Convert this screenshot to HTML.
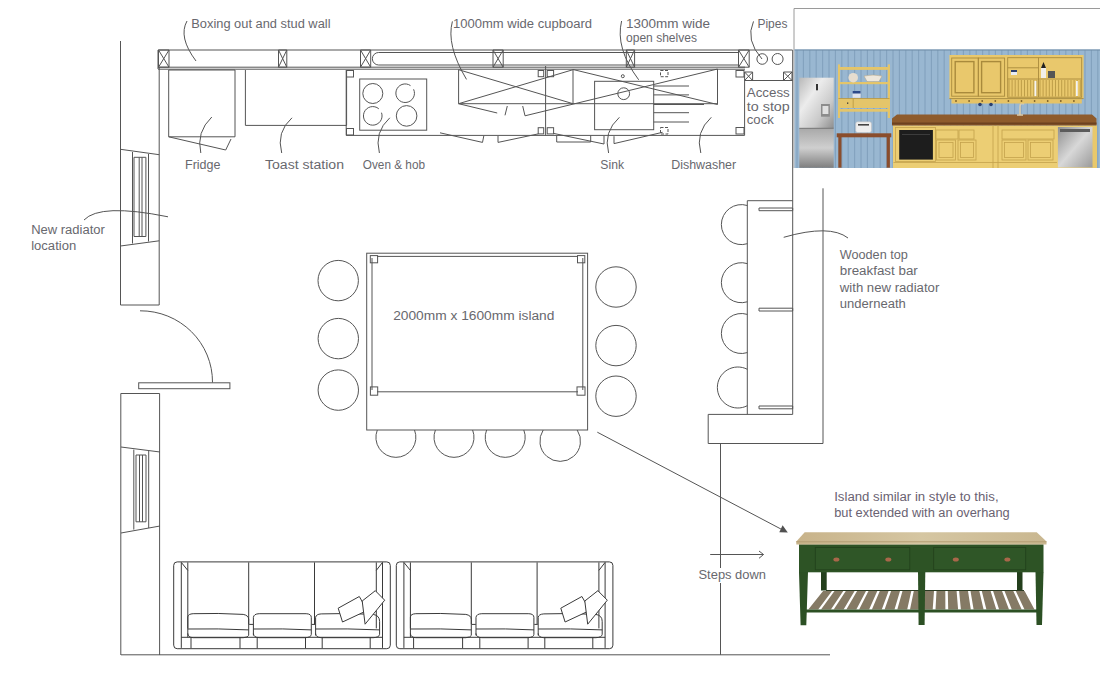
<!DOCTYPE html>
<html><head><meta charset="utf-8">
<style>
html,body{margin:0;padding:0;background:#fff;width:1100px;height:675px;overflow:hidden}
svg{display:block}
text{font-family:"Liberation Sans",sans-serif;fill:#68686e;font-size:12px}
</style></head><body>
<svg width="1100" height="675" viewBox="0 0 1100 675">
<defs>
<g id="sofa" fill="none" stroke="#3a3a3a" stroke-width="1">
<rect x="0.5" y="0.5" width="216.6" height="86.8" rx="3.5"/>
<path d="M8.1 1 V86.5 M209.3 1 V86.5"/>
<path d="M14.6 1 V67 M203.1 1 V67 M8.1 1 L14.6 9 M209.3 1 L203.1 9"/>
<path d="M75.5 1 V62.8 M141.3 1 V62.8"/>
<path d="M14.6 76 V55.5 Q15 52.5 20 52.3 Q45 51.5 70 53 Q75.5 54 75.5 58 V74 Q75 76 70 76.3 H20 Q14.6 76 14.6 72 M14.6 67.6 Q45 67 75.5 68.5"/>
<path d="M80.2 74 V56 Q80.5 52.5 86 52.3 H133 Q138.1 52.5 138.1 56 V73 Q138 76 132 76.3 H86 Q80.2 76 80.2 72 M80.2 67.6 Q110 67 138.1 68.5"/>
<path d="M142.4 74 V56 Q142.8 52.8 148 52.5 Q175 51.5 200 53 Q206.4 54 206.4 60 V73 Q206 76 200 76.3 H148 Q142.4 76 142.4 72 M142.4 67.6 Q175 67 206.4 68.5"/>
<path d="M8.1 75.9 H209.3"/>
<path d="M17.8 76 V86.8 M66.8 76 V86.8 M84 76 V86.8 M132.3 76 V86.8 M149 76 V86.8 M197 76 V86.8"/>
<path d="M76 63 H80 M138.5 63 H142"/>
<path d="M165 46.8 L186.1 35.1 L194.1 49 L169.3 60.6 Z" fill="#fff"/>
<path d="M189 39.6 L202.1 29.3 L211.5 38.8 L191.9 62.8 L189 39.6 Z" fill="#fff"/>
</g>
</defs>
<use href="#sofa" x="173.2" y="561.4"/>
<use href="#sofa" x="395.8" y="561.4"/>

<g fill="none" stroke="#555" stroke-width="1">
<!-- left outer walls -->
<path d="M120.5 41 V305 H159.2 V67"/>
<path d="M120.5 149.3 L159.2 154.7 M120.5 246 L159.2 240.8"/>
<path d="M132.5 152 V243.5 M148.5 154 V241.5"/>
<path d="M134 157.3 V236.5 H145.9 V157.3 Z M139.2 157.3 V236.5 M142 157.3 V236.5"/>
<path d="M120.8 655 V393.5 H159.6 V655"/>
<path d="M121 447 L160 452 M121 533 L160 526"/>
<path d="M133.8 449.6 V529.6 M148.7 451 V528"/>
<path d="M136 455 V521.8 H146 V455 Z M139.5 455 V521.8 M142.5 455 V521.8"/>
<!-- door -->
<path d="M140 310.8 A72 71.2 0 0 1 212.5 382.5"/>
<rect x="138.7" y="382.8" width="91.2" height="5.9"/>
<!-- floor -->
<path d="M121 654.8 H830"/>
<!-- stud wall -->
<path d="M158 50 H792.5 M158 67.2 H745 M158 69.2 H745 M158 50 V69"/>
<path d="M158.5 50 h10.5 v17.2 h-10.5 z M158.5 50 l10.5 17.2 M169 50 l-10.5 17.2"/>
<path d="M278.5 50 h8.3 v17.2 h-8.3 z M278.5 50 l8.3 17.2 M286.8 50 l-8.3 17.2"/>
<path d="M360.5 50 h10.2 v17.2 h-10.2 z M360.5 50 l10.2 17.2 M370.7 50 l-10.2 17.2"/>
<path d="M493 50 h10.2 v17.2 h-10.2 z M493 50 l10.2 17.2 M503.2 50 l-10.2 17.2"/>
<path d="M626.3 50 h8.3 v17.2 h-8.3 z M626.3 50 l8.3 17.2 M634.6 50 l-8.3 17.2"/>
<path d="M738.5 50 h10.7 v17.2 h-10.7 z M738.5 50 l10.7 17.2 M749.2 50 l-10.7 17.2"/>
<path d="M738 52.5 H378.6 A6.25 6.25 0 0 0 378.6 65 H738"/>
<circle cx="762.2" cy="59" r="5.3"/>
<circle cx="777.6" cy="59" r="5.5"/>
<path d="M792.7 50 V414.4"/>
<!-- units -->
<path d="M168.7 70 V136.8 H235 V70 Z"/>
<path d="M168.7 136.8 L225.7 150 L231 139"/>
<path d="M245.4 70 V125.4 H346.6 V70"/>
<path d="M346.2 70 V135.4 H744.6 V80.5 H792.7"/>
<rect x="346.5" y="70.5" width="7" height="6.5"/>
<rect x="346.5" y="128.5" width="7" height="6.5"/>
<rect x="359.7" y="79" width="67" height="51.2"/>
<circle cx="372.8" cy="93.5" r="10"/>
<path d="M413.6 89.3 A9.3 9.3 0 1 1 410.5 85.6"/>
<path d="M381.5 112.7 A9.3 9.3 0 1 1 378.8 108.8"/>
<circle cx="406.6" cy="115.9" r="10.3"/>
<!-- cupboards -->
<path d="M458.6 69.7 V103.7 H717.5 M458.6 69.7 L573 103.7 M458.6 103.7 L573 69.7 M573 69.7 V103.7"/>
<path d="M573 69.5 L717.5 104.5 M525 115.8 L717.5 69 M717.5 69 V104.5"/>
<path d="M458.6 103.7 L497.2 113 M507.3 106 L505 115.3 M522.7 106 L525 115.8"/>
<path d="M545.6 66 V135.4"/>
<rect x="538.2" y="70.5" width="5.5" height="6.2"/>
<rect x="547.2" y="70.5" width="6.4" height="6.2"/>
<rect x="538.2" y="127.7" width="5.5" height="6.2"/>
<rect x="547.2" y="127.7" width="6.4" height="6.2"/>
<rect x="660.5" y="70.5" width="7.5" height="6.2" stroke-dasharray="3 1.5"/>
<rect x="736" y="70.5" width="8" height="6.5"/>
<rect x="660.5" y="127.5" width="7.5" height="6.5" stroke-dasharray="3 1.5"/>
<rect x="736" y="127.5" width="8" height="6.5"/>
<path d="M440 132.8 L482.5 142.4 L483.8 135.9 M498 136 V142.4 L538.2 133.9"/>
<path d="M553.6 133.4 L604 144 V136 M556.7 142 H590.7 M556.7 135.5 V142 M590.7 135.5 V142"/>
<path d="M614 136.2 V143.6 L662.6 132.3"/>
<!-- sink -->
<rect x="594.6" y="81.3" width="59.1" height="48.4"/>
<circle cx="623.7" cy="93.7" r="5.9"/>
<circle cx="622.8" cy="76.2" r="1.5"/>
<path d="M653.7 86 H689 M653.7 94.9 H689 M653.7 104.5 H704 M653.7 112.7 H689 M653.7 122 H689"/>
<!-- access -->
<path d="M744.6 72 h8 v8.5 h-8 z M744.6 72 l8 8.5 M752.6 72 l-8 8.5"/>
<path d="M783.5 72 h8.5 v8.5 h-8.5 z M783.5 72 l8.5 8.5 M792 72 l-8.5 8.5"/>

<!-- leaders -->
<path d="M187 21 Q178 37 196 61"/>
<path d="M452.4 21.4 Q446 45 466.5 79.4"/>
<path d="M621.6 21 Q615 48 638.7 79.8"/>
<path d="M753.5 21.4 Q745 40 762 59"/>
<path d="M211.8 117 Q196 132 200.8 153"/>
<path d="M292 117.8 Q276 132 281.7 153"/>
<path d="M389.8 117.8 Q374 132 379.4 153"/>
<path d="M619.4 117.3 Q603 132 608.6 153"/>
<path d="M711.3 117.3 Q695 132 700.8 153"/>
<path d="M84 220 Q100 203 168 216.8"/>
<path d="M783.7 237.3 Q830 224 848 238"/>
<!-- island -->
<rect x="366.7" y="253.2" width="220.9" height="176.8"/>
<path d="M372 258 V390 M582.8 258 V390 M377 256.4 H578 M377 391.8 H578"/>
<rect x="370.3" y="255.6" width="7.3" height="7.2"/>
<rect x="577.5" y="255.6" width="7.3" height="7.2"/>
<rect x="370.4" y="386.9" width="7.3" height="8.3"/>
<rect x="577" y="386.9" width="8" height="8.3"/>
<circle cx="338.2" cy="280.6" r="20.2"/>
<circle cx="338.3" cy="338.6" r="20.2"/>
<circle cx="338.3" cy="390.1" r="20.2"/>
<circle cx="616" cy="287" r="20.2"/>
<circle cx="616" cy="345.6" r="20.2"/>
<circle cx="616" cy="396.2" r="20.2"/>
<path d="M377.3 430 A20 20 0 1 0 414.5 430"/>
<path d="M435.4 430 A20 20 0 1 0 472.6 430"/>
<path d="M486.6 430 A20 20 0 1 0 523.8 430"/>
<path d="M543.2 430 A20.3 20.3 0 1 0 577.2 430"/>
<!-- breakfast bar -->
<path d="M747.3 414.4 V200.7 H792.7"/>
<path d="M823 188.3 V443.5 H708.2 V414.4 H792.7"/>
<path d="M720.5 443.5 V568 M720.5 583 V654.8"/>
<path d="M759 208 H792.7 V210.7 H759 Z M759 308.2 H792.7 V311 H759 Z M759 406 H792.7 V408.8 H759 Z"/>
<path d="M747.3 205.5 A20 20 0 1 0 747.3 243.7"/>
<path d="M747.3 263.6 A20 20 0 1 0 747.3 301.8"/>
<path d="M747.3 314.4 A20 20 0 1 0 747.3 352.6"/>
<path d="M747.3 369.3 A20.5 20.5 0 1 0 747.3 405.7"/>
<!-- arrows -->
<path d="M597.3 432.2 L786 531.7"/>
<path d="M710.2 554.5 H763.5 M759 551 L763.5 554.5 L759 558.3"/>
</g>
<g fill="#505050" stroke="none">
<path d="M787.8 532.6 L779.3 532.2 L782.6 525.3 Z"/>

</g>
<g>
<text x="191.3" y="28.2" textLength="139.2" lengthAdjust="spacingAndGlyphs">Boxing out and stud wall</text>
<text x="453" y="28.2" textLength="139" lengthAdjust="spacingAndGlyphs">1000mm wide cupboard</text>
<text x="626" y="28.2" textLength="84" lengthAdjust="spacingAndGlyphs">1300mm wide</text>
<text x="626" y="42" textLength="71" lengthAdjust="spacingAndGlyphs">open shelves</text>
<text x="757.4" y="28.2" textLength="30" lengthAdjust="spacingAndGlyphs">Pipes</text>
<text x="185" y="169" textLength="35.5" lengthAdjust="spacingAndGlyphs">Fridge</text>
<text x="265" y="169" textLength="79" lengthAdjust="spacingAndGlyphs">Toast station</text>
<text x="362.8" y="169" textLength="62.2" lengthAdjust="spacingAndGlyphs">Oven &amp; hob</text>
<text x="600.3" y="169" textLength="23.7" lengthAdjust="spacingAndGlyphs">Sink</text>
<text x="671.2" y="169" textLength="65" lengthAdjust="spacingAndGlyphs">Dishwasher</text>
<text x="746.8" y="96.5" textLength="43" lengthAdjust="spacingAndGlyphs">Access</text>
<text x="746.8" y="110.7" textLength="43" lengthAdjust="spacingAndGlyphs">to stop</text>
<text x="746.8" y="124" textLength="27" lengthAdjust="spacingAndGlyphs">cock</text>
<text x="31.2" y="234" textLength="73.6" lengthAdjust="spacingAndGlyphs">New radiator</text>
<text x="31.2" y="250" textLength="45" lengthAdjust="spacingAndGlyphs">location</text>
<text x="393.2" y="320" textLength="161.2" lengthAdjust="spacingAndGlyphs">2000mm x 1600mm island</text>
<text x="839.8" y="259" textLength="68" lengthAdjust="spacingAndGlyphs">Wooden top</text>
<text x="839.8" y="275" textLength="78" lengthAdjust="spacingAndGlyphs">breakfast bar</text>
<text x="839.8" y="291.5" textLength="99.5" lengthAdjust="spacingAndGlyphs">with new radiator</text>
<text x="839.8" y="308" textLength="66" lengthAdjust="spacingAndGlyphs">underneath</text>
<text x="698.5" y="579" textLength="67.5" lengthAdjust="spacingAndGlyphs">Steps down</text>
<text x="834.2" y="501" textLength="164.4" lengthAdjust="spacingAndGlyphs" style="fill:#6a6272">Island similar in style to this,</text>
<text x="834.2" y="517" textLength="175.5" lengthAdjust="spacingAndGlyphs" style="fill:#6a6272">but extended with an overhang</text>
</g>
<!-- kitchen photo -->
<g>
<path d="M794 168 V8.5 H1100" fill="none" stroke="#9a9a9a" stroke-width="1"/>
<defs>
<linearGradient id="fr" x1="0" y1="0" x2="1" y2="1">
<stop offset="0" stop-color="#b9b9b9"/><stop offset="0.35" stop-color="#ececec"/><stop offset="0.7" stop-color="#c9c9c9"/><stop offset="1" stop-color="#8e8e8e"/>
</linearGradient>
<linearGradient id="fr2" x1="0" y1="0" x2="0" y2="1">
<stop offset="0" stop-color="#a8a8a8"/><stop offset="0.5" stop-color="#cfcfcf"/><stop offset="1" stop-color="#7e7e7e"/>
</linearGradient>
<linearGradient id="dw" x1="0" y1="0" x2="1" y2="1">
<stop offset="0" stop-color="#8f8f8f"/><stop offset="0.5" stop-color="#d8d8d8"/><stop offset="1" stop-color="#9a9a9a"/>
</linearGradient>
</defs>
<rect x="794.5" y="49.5" width="305.5" height="118.5" fill="#99b7d1"/>
<path d="M797.0 50V168 M803.4 50V168 M809.8 50V168 M816.2 50V168 M822.6 50V168 M829.0 50V168 M835.4 50V168 M841.8 50V168 M848.2 50V168 M854.6 50V168 M861.0 50V168 M867.4 50V168 M873.8 50V168 M880.2 50V168 M886.6 50V168 M893.0 50V168 M899.4 50V168 M905.8 50V168 M912.2 50V168 M918.6 50V168 M925.0 50V168 M931.4 50V168 M937.8 50V168 M944.2 50V168 M950.6 50V168 M957.0 50V168 M963.4 50V168 M969.8 50V168 M976.2 50V168 M982.6 50V168 M989.0 50V168 M995.4 50V168 M1001.8 50V168 M1008.2 50V168 M1014.6 50V168 M1021.0 50V168 M1027.4 50V168 M1033.8 50V168 M1040.2 50V168 M1046.6 50V168 M1053.0 50V168 M1059.4 50V168 M1065.8 50V168 M1072.2 50V168 M1078.6 50V168 M1085.0 50V168 M1091.4 50V168 M1097.8 50V168" stroke="#7f9eba" stroke-width="1.1" fill="none" opacity="0.85"/>
<path d="M794.5 50 H1100" stroke="#6f8ba6" stroke-width="1"/>
<!-- fridge -->
<rect x="799.3" y="77.7" width="34.4" height="50.3" fill="url(#fr)"/>
<rect x="799.3" y="128" width="34.4" height="39.8" fill="url(#fr2)"/>
<path d="M799.3 128.3 H833.7" stroke="#6a6a6a" stroke-width="0.8"/>
<rect x="816" y="84" width="2" height="6.3" fill="#333"/>
<rect x="821" y="104" width="8.9" height="12.7" fill="#8c8c8c"/>
<rect x="822.5" y="106" width="5.9" height="8" fill="#e0e0e0"/>
<!-- shelf unit -->
<g fill="#e4c56a">
<rect x="838" y="64.4" width="2" height="53.6"/>
<rect x="887.8" y="64.4" width="2.2" height="53.6"/>
<rect x="838" y="67" width="52" height="2.9"/>
<rect x="838" y="82" width="52" height="2.2"/>
<rect x="838" y="98.5" width="52" height="9.5"/>
<rect x="838" y="109" width="52" height="2.7"/>
</g>
<path d="M853.2 98.5 V108 M838.5 98.5 H889.5" stroke="#b8963f" stroke-width="0.8"/>
<rect x="847" y="102.5" width="1.3" height="1.3" fill="#333"/>
<circle cx="853.2" cy="77.7" r="4.8" fill="#e6ddcf"/>
<path d="M864 76 Q873 74 882 76 L879 81.5 H867 Z" fill="#ede7dc" stroke="#b5a98f" stroke-width="0.6"/>
<rect x="852.6" y="91" width="8" height="6.8" fill="#dfe4ee"/>
<rect x="852.6" y="91" width="8" height="2.5" fill="#2c4a8a"/>
<!-- table -->
<rect x="836.7" y="133.3" width="54.6" height="4" fill="#8a4d2c"/>
<rect x="838.3" y="137" width="3.2" height="30.7" fill="#8a4d2c"/>
<rect x="886.7" y="137" width="3.2" height="30.7" fill="#8a4d2c"/>
<rect x="855.7" y="121.8" width="15.8" height="10.7" rx="2" fill="#eeeeee" stroke="#bdbdbd" stroke-width="0.5"/>
<rect x="858" y="124" width="11" height="1.6" fill="#444"/>
<!-- counter & base -->
<rect x="893" y="125.4" width="199.5" height="42.6" fill="#ecce74"/>
<rect x="1092" y="125.4" width="5" height="42.6" fill="#e8c86c"/>
<path d="M897 114.5 H1092 L1096.5 118.5 V125.4 H892 V118.5 Z" fill="#8e5b2c"/>
<path d="M892 123.5 H1096.5" stroke="#6d4220" stroke-width="2"/>
<rect x="899.2" y="130" width="33.7" height="29.6" fill="#1d1d1d"/>
<path d="M902 134.5 H930" stroke="#444" stroke-width="0.8"/>
<g fill="none" stroke="#c4a24c" stroke-width="0.8">
<rect x="895.5" y="127.5" width="40" height="34"/>
<rect x="936" y="130" width="22" height="9"/>
<rect x="959" y="130" width="15" height="9"/>
<rect x="936.5" y="140" width="19" height="20"/>
<rect x="958" y="140" width="18" height="20"/>
<rect x="939" y="142.5" width="14" height="15"/>
<rect x="960.5" y="142.5" width="13" height="15"/>
<path d="M993 125.4 V168 M998 125.4 V168 M893.5 162.5 H1057"/>
<rect x="1002" y="130" width="52" height="9"/>
<rect x="1002" y="140" width="24" height="20"/>
<rect x="1028" y="140" width="25" height="20"/>
<rect x="1004.5" y="142.5" width="19" height="15"/>
<rect x="1030.5" y="142.5" width="20" height="15"/>
</g>
<rect x="1057.9" y="127" width="34.6" height="40.5" fill="url(#dw)"/>
<rect x="1060" y="129" width="30" height="3" fill="#5b5b5b"/>
<path d="M1020 115 V107 Q1020 102 1024 104" stroke="#d9ccb0" stroke-width="1.6" fill="none"/><path d="M1017 115 H1023" stroke="#d9ccb0" stroke-width="1.5"/>
<!-- upper cabinet -->
<rect x="949.4" y="55" width="134.2" height="43.6" fill="#e9c86c"/>
<rect x="951.5" y="98.6" width="130.3" height="4.9" fill="#e6c366"/>
<g fill="none" stroke="#a98a3c" stroke-width="0.9">
<rect x="951.7" y="58" width="26.6" height="38.2"/>
<rect x="978.3" y="58" width="26.3" height="38.2"/>
<rect x="955.2" y="61.6" width="18.7" height="31.1" stroke-width="1.4"/>
<rect x="981.6" y="61.6" width="19" height="31.1" stroke-width="1.4"/>
<rect x="1007.7" y="57.7" width="74" height="39.5"/>
<path d="M1038.5 57.7 V97 M1007.7 79 H1081.7 M1007.7 67.8 H1038.5 M949.4 98.6 H1083.6"/>
</g>
<path d="M1009.0 80V96.5 M1012.1 80V96.5 M1015.2 80V96.5 M1018.3 80V96.5 M1021.4 80V96.5 M1024.5 80V96.5 M1027.6 80V96.5 M1030.7 80V96.5 M1033.8 80V96.5 M1036.9 80V96.5 M1040.0 80V96.5 M1043.1 80V96.5 M1046.2 80V96.5 M1049.3 80V96.5 M1052.4 80V96.5 M1055.5 80V96.5 M1058.6 80V96.5 M1061.7 80V96.5 M1064.8 80V96.5 M1067.9 80V96.5 M1071.0 80V96.5 M1074.1 80V96.5 M1077.2 80V96.5 M1080.3 80V96.5" stroke="#b99844" stroke-width="0.9" fill="none"/>
<rect x="1034.5" y="81" width="1.8" height="15" fill="#f4f4f4"/><rect x="1076" y="81" width="1.8" height="15" fill="#f4f4f4"/><rect x="1011" y="70" width="6" height="5" fill="#e8ecf2"/>
<rect x="1011" y="70" width="6" height="2" fill="#2b3f6e"/>
<rect x="1041" y="68" width="5" height="10" fill="#f1eee8"/>
<path d="M1041 68 L1043.5 62 L1046 68 Z" fill="#222"/>
<rect x="1048" y="71" width="7" height="7" fill="#555"/>
<circle cx="956.0" cy="101" r="0.9" fill="#7a5f28"/><circle cx="969.1" cy="101" r="0.9" fill="#7a5f28"/><circle cx="982.2" cy="101" r="0.9" fill="#7a5f28"/><circle cx="995.3" cy="101" r="0.9" fill="#7a5f28"/><circle cx="1008.4" cy="101" r="0.9" fill="#7a5f28"/><circle cx="1021.5" cy="101" r="0.9" fill="#7a5f28"/><circle cx="1034.6" cy="101" r="0.9" fill="#7a5f28"/><circle cx="1047.7" cy="101" r="0.9" fill="#7a5f28"/><circle cx="1060.8" cy="101" r="0.9" fill="#7a5f28"/><circle cx="1073.9" cy="101" r="0.9" fill="#7a5f28"/><circle cx="980" cy="104.5" r="1.8" fill="#2b3f6e"/>
<circle cx="991" cy="104.5" r="1.8" fill="#2b3f6e"/>
</g>
<!-- island photo -->
<g>
<defs>
<linearGradient id="top" x1="0" y1="0" x2="1" y2="0">
<stop offset="0" stop-color="#c8b38a"/><stop offset="0.5" stop-color="#d5c6a2"/><stop offset="1" stop-color="#c9b790"/>
</linearGradient>
</defs>
<path d="M828 590.2 H1022 L1037 609.7 H807 Z" fill="#ffffff"/>
<rect x="821" y="572" width="5.7" height="18.5" fill="#233f1c"/>
<rect x="1017" y="572" width="5.5" height="18.5" fill="#233f1c"/>
<path d="M823.1 591 L832.0 591 L818.2 609.5 L808.3 609.5 Z M834.5 591 L843.3 591 L830.9 609.5 L821.0 609.5 Z M845.8 591 L854.6 591 L843.6 609.5 L833.7 609.5 Z M857.1 591 L866.0 591 L856.3 609.5 L846.4 609.5 Z M868.5 591 L877.3 591 L869.1 609.5 L859.1 609.5 Z M879.8 591 L888.6 591 L881.8 609.5 L871.9 609.5 Z M891.1 591 L900.0 591 L894.5 609.5 L884.6 609.5 Z M902.5 591 L911.3 591 L907.2 609.5 L897.3 609.5 Z M913.8 591 L922.6 591 L920.0 609.5 L910.0 609.5 Z M925.1 591 L934.0 591 L932.7 609.5 L922.8 609.5 Z M936.5 591 L945.3 591 L945.4 609.5 L935.5 609.5 Z M947.8 591 L956.6 591 L958.1 609.5 L948.2 609.5 Z M959.1 591 L968.0 591 L970.8 609.5 L960.9 609.5 Z M970.5 591 L979.3 591 L983.6 609.5 L973.6 609.5 Z M981.8 591 L990.6 591 L996.3 609.5 L986.4 609.5 Z M993.1 591 L1002.0 591 L1009.0 609.5 L999.1 609.5 Z M1004.5 591 L1013.3 591 L1021.7 609.5 L1011.8 609.5 Z M1015.8 591 L1024.6 591 L1034.5 609.5 L1024.5 609.5 Z" fill="#857a65"/>
<path d="M826 590.5 H1024" stroke="#2a3a22" stroke-width="1.2"/>
<rect x="805" y="609.5" width="234" height="3" fill="#2c5024"/>
<path d="M799 572 H808 L806.3 625.2 H800.6 Z" fill="#2c5024"/>
<path d="M918 572 H925.3 L924.6 625 H918.6 Z" fill="#2c5024"/>
<path d="M1035.5 572 H1043.5 L1042 625 H1036.5 Z" fill="#2c5024"/>
<rect x="799" y="544.3" width="244.5" height="28" fill="#2d5325"/>
<rect x="815.3" y="547.5" width="94.5" height="22.3" fill="#2f5627" stroke="#22401c" stroke-width="0.8"/>
<rect x="933.7" y="547.5" width="92" height="22.3" fill="#2f5627" stroke="#22401c" stroke-width="0.8"/>
<path d="M804.7 532.3 H1036.7 L1046.5 541.5 V544.6 H796.3 V541.5 Z" fill="url(#top)"/>
<path d="M796.3 541.8 H1046.5" stroke="#b39d72" stroke-width="1"/>
<g fill="#a9674a">
<ellipse cx="836.4" cy="559.5" rx="3" ry="2"/>
<ellipse cx="888.3" cy="559.5" rx="3" ry="2"/>
<ellipse cx="955.8" cy="559.5" rx="3" ry="2"/>
<ellipse cx="1007.4" cy="559.5" rx="3" ry="2"/>
</g>
</g>
</svg>
</body></html>
